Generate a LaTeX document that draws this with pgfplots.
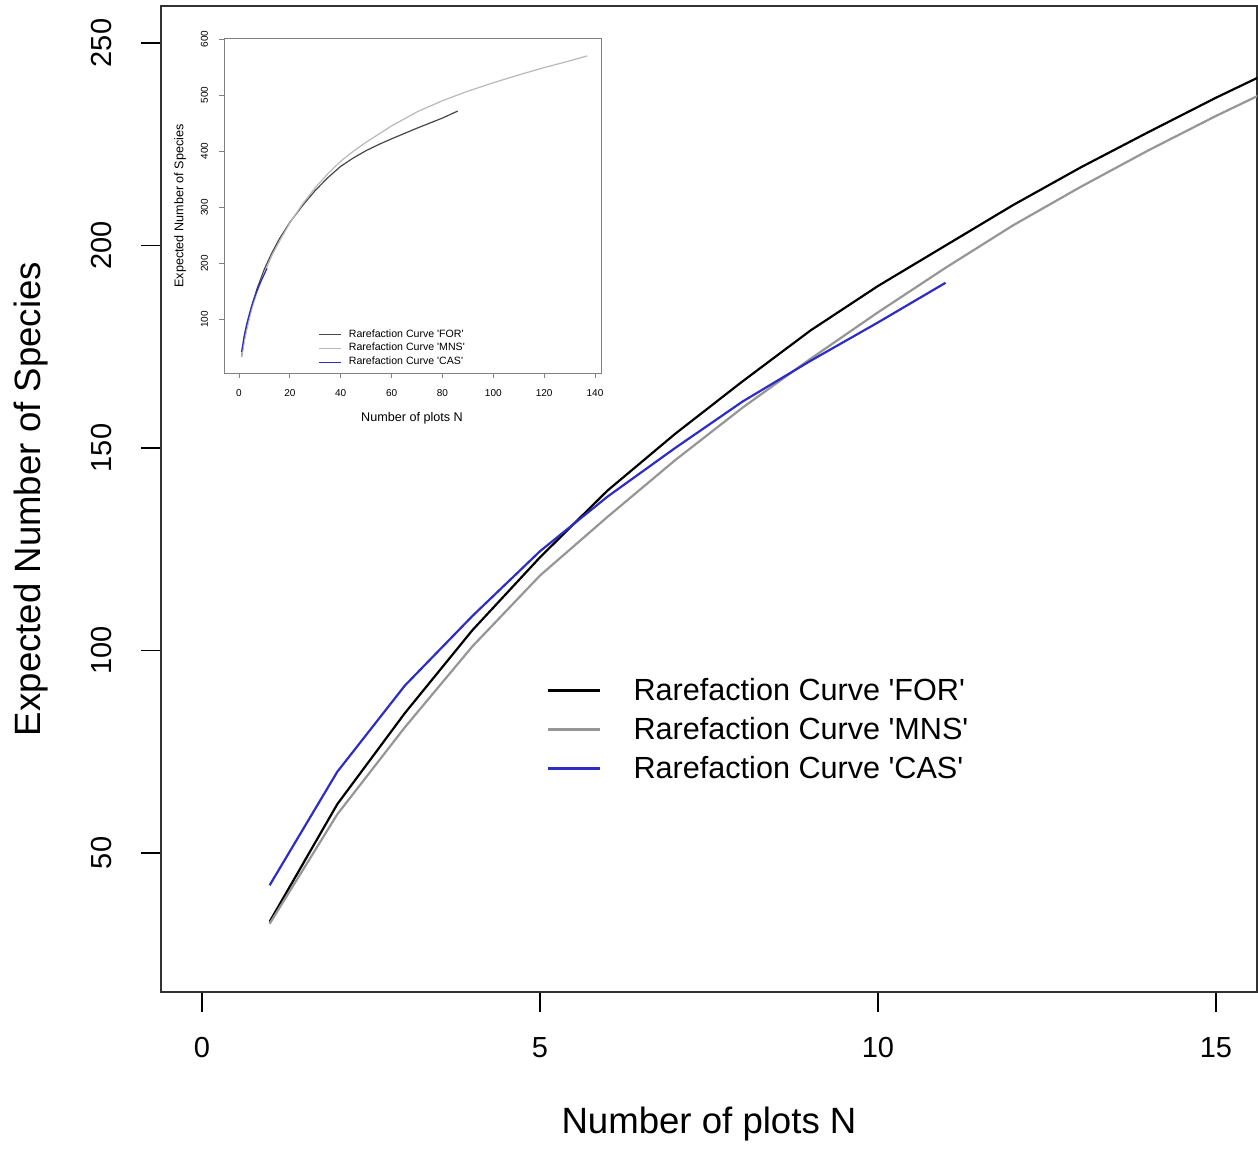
\documentclass[border=0pt]{standalone}
\usepackage{fontspec}
\setmainfont{Liberation Sans}
\usepackage{pgfplots}
\pgfplotsset{compat=1.18}
\definecolor{casblue}{RGB}{45,45,195}
\definecolor{mnsgray}{RGB}{150,150,150}
\definecolor{imnsgray}{RGB}{185,185,185}
\definecolor{iforgray}{RGB}{70,70,70}
\definecolor{boxgray}{RGB}{50,50,50}

\pgfplotstableread{
x y
1 33
2 62
3 84.5
4 105
5 123
6 139.5
7 153.5
8 166.5
9 179
10 190
11 200
12 210
13 219.3
14 228
15 236.5
16 244.5
}\forMain
\pgfplotstableread{
x y
1 32.5
2 59.5
3 81
4 101
5 118.5
6 133
7 147
8 160
9 172
10 183.5
11 194.5
12 205
13 214.5
14 223.5
15 232
16 240
}\mnsMain
\pgfplotstableread{
x y
1 42
2 70
3 91.3
4 108.5
5 124.5
6 138
7 150
8 161.5
9 171.5
10 181
11 190.8
}\casMain
\pgfplotstableread{
x y
1 33
2 62
3 84.5
5 123
7 153.5
10 190
13 219.3
16 244.5
20 273
25 303
30 330
35 353
40 373
45 388
50 401
55 412
60 422
65 431.5
70 441
75 450
80 459
86 471.5
}\forInset
\pgfplotstableread{
x y
1 32.5
2 59.5
3 81
5 118.5
7 147
10 183.5
13 214.5
16 240
20 272
25 306
30 335
35 360
40 382
45 400
50 416
60 445
70 470
80 490
90 507
100 522
110 536
120 549
130 561
137 570
}\mnsInset

\begin{document}
\begin{tikzpicture}
\useasboundingbox (-80.5pt,-78pt) rectangle (548.5pt,496pt);
\begin{axis}[
  at={(0pt,0pt)}, anchor=south west,
  scale only axis, width=548pt, height=493pt,
  xmin=-0.607, xmax=15.607, ymin=15.64, ymax=259.15,
  xtick={0,5,10,15}, ytick={50,100,150,200,250},
  tick align=outside, tick pos=left,
  major tick length=10pt,
  axis line style={boxgray, line width=1pt},
  every tick/.style={black, line width=0.8pt},
  /pgf/number format/assume math mode=true,
  xticklabel style={font=\fontsize{14.5}{17}\selectfont, yshift=-9pt},
  yticklabel style={font=\fontsize{14.5}{17}\selectfont, rotate=90, anchor=south, yshift=11pt},
  legend style={at={(axis description cs:0.351,0.323)}, anchor=north west,
    draw=none, fill=none, font=\fontsize{15.3}{18}\selectfont, row sep=3pt, inner sep=0pt},
  legend cell align=left,
  legend image code/.code={\draw[#1, line width=1.5pt] (0pt,0pt) -- (26pt,0pt); \path[draw=none] (0pt,0pt) -- (41pt,0pt);},
]
\addplot[black, line width=1.1pt] table[x=x,y=y] {\forMain};
\addlegendentry{Rarefaction Curve \textquotesingle FOR\textquotesingle}
\addplot[mnsgray, line width=1.1pt] table[x=x,y=y] {\mnsMain};
\addlegendentry{Rarefaction Curve \textquotesingle MNS\textquotesingle}
\addplot[casblue, line width=1.1pt] table[x=x,y=y] {\casMain};
\addlegendentry{Rarefaction Curve \textquotesingle CAS\textquotesingle}
\end{axis}
\node[font=\fontsize{18.3}{22}\selectfont] at (274pt,-66pt) {Number of plots N};
\node[font=\fontsize{18.3}{22}\selectfont, rotate=90] at (-65pt,246.5pt) {Expected Number of Species};

\begin{axis}[
  at={(31.5pt,309.5pt)}, anchor=south west,
  scale only axis, width=188.5pt, height=167.5pt,
  xmin=-5.9, xmax=142.35, ymin=4.4, ymax=601.8,
  xtick={0,20,...,140}, ytick={100,200,...,600},
  tick align=outside, tick pos=left,
  major tick length=2.5pt,
  axis background/.style={fill=white},
  axis line style={gray, line width=0.4pt},
  every tick/.style={gray, line width=0.4pt},
  /pgf/number format/assume math mode=true,
  xticklabel style={font=\fontsize{5}{6}\selectfont, yshift=-2pt},
  yticklabel style={font=\fontsize{5}{6}\selectfont, rotate=90, anchor=south, yshift=2pt},
  legend style={at={(axis description cs:0.249,0.143)}, anchor=north west,
    draw=none, fill=none, font=\fontsize{5.3}{6}\selectfont, row sep=-2.5pt, inner sep=0pt},
  legend cell align=left,
  legend image code/.code={\draw[#1, line width=0.6pt] (0pt,0pt) -- (11pt,0pt); \path[draw=none] (0pt,0pt) -- (13pt,0pt);},
]
\addplot[iforgray, line width=0.6pt] table[x=x,y=y] {\forInset};
\addlegendentry{Rarefaction Curve \textquotesingle FOR\textquotesingle}
\addplot[imnsgray, line width=0.6pt] table[x=x,y=y] {\mnsInset};
\addlegendentry{Rarefaction Curve \textquotesingle MNS\textquotesingle}
\addplot[casblue, line width=0.6pt] table[x=x,y=y] {\casMain};
\addlegendentry{Rarefaction Curve \textquotesingle CAS\textquotesingle}
\end{axis}
\node[font=\fontsize{6.3}{8}\selectfont] at (125.5pt,287pt) {Number of plots N};
\node[font=\fontsize{6.3}{8}\selectfont, rotate=90] at (9.5pt,393pt) {Expected Number of Species};
\end{tikzpicture}
\end{document}
